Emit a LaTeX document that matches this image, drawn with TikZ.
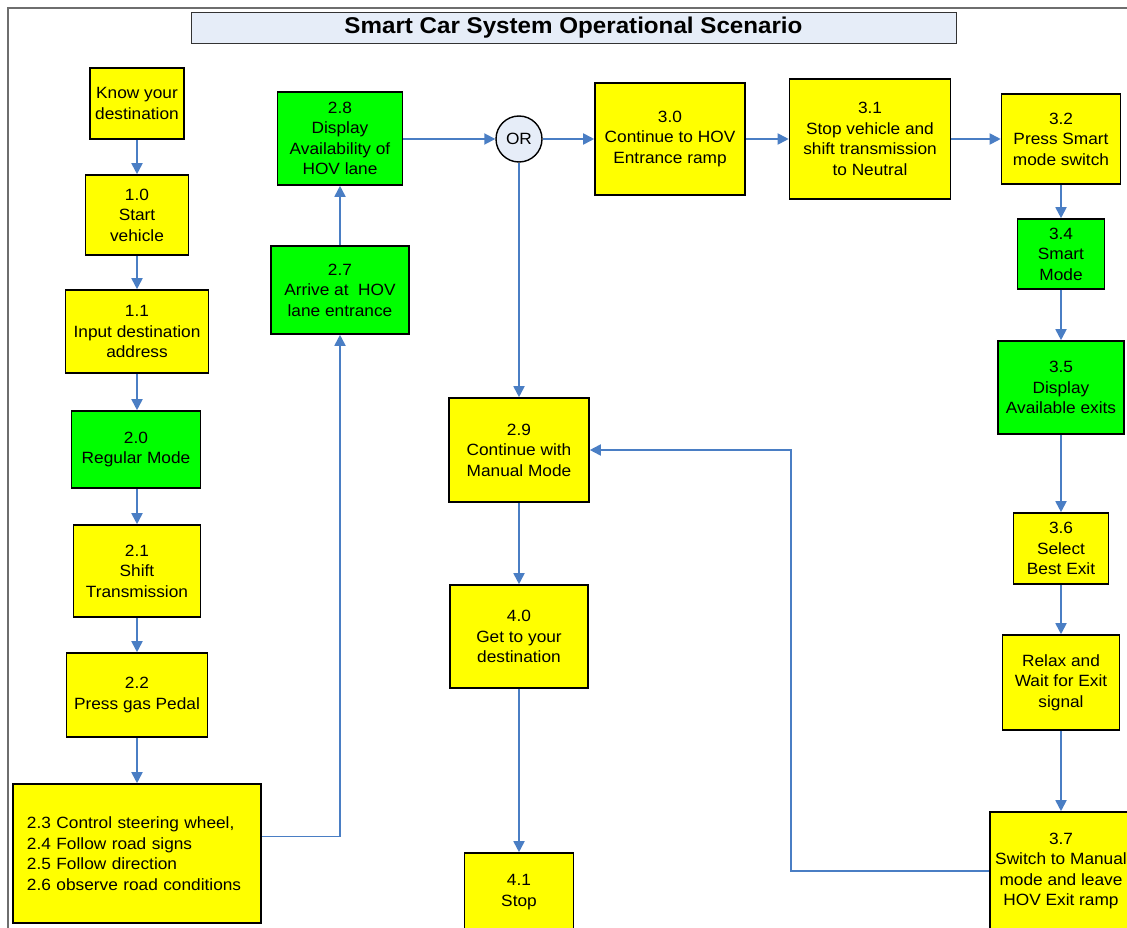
\documentclass[tikz,border=0pt]{standalone}
\usepackage{fontspec}
\setmainfont{Liberation Sans}[FakeStretch=1.06]
\usetikzlibrary{arrows.meta}

\definecolor{flowblue}{HTML}{4A7EC4}
\definecolor{boxyellow}{HTML}{FFFF00}
\definecolor{boxgreen}{HTML}{00FF00}
\definecolor{titlefill}{HTML}{E6EDF8}
\definecolor{framegray}{HTML}{6E6E6E}

% box given by centre and size: style, name, cx, cy, width, height, text
\newcommand\flowbox[7]{%
  \node[#1, minimum width={#5}, minimum height={#6}] (#2) at (#3,#4) {#7};}

\begin{document}
\begin{tikzpicture}[x=1pt,y=-1pt,
  basebox/.style={draw=black, line width=1.6pt, align=center, inner sep=2pt,
    font=\fontsize{16.3}{20.5}\selectfont},
  ybox/.style={basebox, fill=boxyellow},
  gbox/.style={basebox, fill=boxgreen},
  flow/.style={draw=flowblue, line width=1.8pt,
    -{Triangle[length=11pt,width=11pt]}}]

\useasboundingbox (0,0) rectangle (1127,928);
\clip (0,0) rectangle (1127,928);

% outer frame
\draw[framegray, line width=1.2pt] (8,8) rectangle (1200,1000);

% title
\node[draw=black!80, fill=titlefill, line width=0.8pt, minimum width=765,
  minimum height=31, inner sep=0pt,
  font=\bfseries\fontsize{22.8}{26}\selectfont] (title) at (573.5,27.5)
  {Smart Car System Operational Scenario};

% left column
\flowbox{ybox}{know}{137}{103.5}{94}{71}{Know your\\destination}
\flowbox{ybox}{start}{137}{215}{103}{80}{1.0\\Start\\vehicle}
\flowbox{ybox}{input}{137}{331.5}{143}{83}{1.1\\Input destination\\address}
\flowbox{gbox}{regular}{136}{449.5}{129}{77}{2.0\\Regular Mode}
\flowbox{ybox}{shift}{137}{571}{127}{92}{2.1\\Shift\\Transmission}
\flowbox{ybox}{gas}{137}{695}{141}{84}{2.2\\Press gas Pedal}
\node[ybox, minimum width=248, minimum height=139, text width=220,
  inner xsep=14pt, align=left] (ctrl) at (137,853.5)
  {2.3 Control steering wheel,\\2.4 Follow road signs\\2.5 Follow direction\\2.6 observe road conditions};

% HOV entrance column
\flowbox{gbox}{s27}{340}{290}{138}{88}{2.7\\Arrive at \ HOV\\lane entrance}
\flowbox{gbox}{s28}{340}{138.5}{125}{93}{2.8\\Display\\Availability of\\HOV lane}

% decision
\node[draw=black, fill=titlefill, line width=1.4pt, circle, minimum size=46,
  inner sep=0pt, font=\fontsize{16.3}{20.5}\selectfont] (or) at (519,139) {OR};

% top row
\flowbox{ybox}{s30}{670}{139}{150}{112}{3.0\\Continue to HOV\\Entrance ramp}
\flowbox{ybox}{s31}{870}{139}{161}{120}{3.1\\Stop vehicle and\\shift transmission\\to Neutral}
\flowbox{ybox}{s32}{1061}{139}{119}{90}{3.2\\Press Smart\\mode switch}

% right column
\flowbox{gbox}{s34}{1061}{254}{87}{70}{3.4\\Smart\\Mode}
\flowbox{gbox}{s35}{1061}{387.5}{126}{93}{3.5\\Display\\Available exits}
\flowbox{ybox}{s36}{1061}{548.5}{95}{71}{3.6\\Select\\Best Exit}
\flowbox{ybox}{relax}{1061}{682.5}{117}{95}{Relax and\\Wait for Exit\\signal}
\flowbox{ybox}{s37}{1061}{871}{142}{118}{3.7\\Switch to Manual\\mode and leave\\HOV Exit ramp}

% middle column
\flowbox{ybox}{s29}{519}{450}{140}{104}{2.9\\Continue with\\Manual Mode}
\flowbox{ybox}{s40}{519}{636.5}{138}{103}{4.0\\Get to your\\destination}
\flowbox{ybox}{s41}{519}{892}{109}{78}{4.1\\Stop}

% connectors
\draw[flow] (know.south) -- (know.south |- start.north);
\draw[flow] (start.south) -- (start.south |- input.north);
\draw[flow] (input.south) -- (input.south |- regular.north);
\draw[flow] (input.south |- regular.south) -- (input.south |- shift.north);
\draw[flow] (shift.south) -- (shift.south |- gas.north);
\draw[flow] (gas.south) -- (gas.south |- ctrl.north);
\draw[flow] ([yshift=17pt]ctrl.east) -| (s27.south);
\draw[flow] (s27.north) -- (s28.south);
\draw[flow] (s28.east |- or.west) -- (or.west);
\draw[flow] (or.east) -- (s30.west |- or.east);
\draw[flow] (s30.east) -- (s31.west |- s30.east);
\draw[flow] (s31.east) -- (s32.west |- s31.east);
\draw[flow] (or.south) -- (s29.north);
\draw[flow] (s32.south) -- (s34.north);
\draw[flow] (s34.south) -- (s35.north);
\draw[flow] (s35.south) -- (s36.north);
\draw[flow] (s36.south) -- (relax.north);
\draw[flow] (relax.south) -- (s37.north);
\draw[flow] (s37.west) -- ++(-198,0) |- (s29.east);
\draw[flow] (s29.south) -- (s40.north);
\draw[flow] (s40.south) -- (s41.north);

\end{tikzpicture}
\end{document}
